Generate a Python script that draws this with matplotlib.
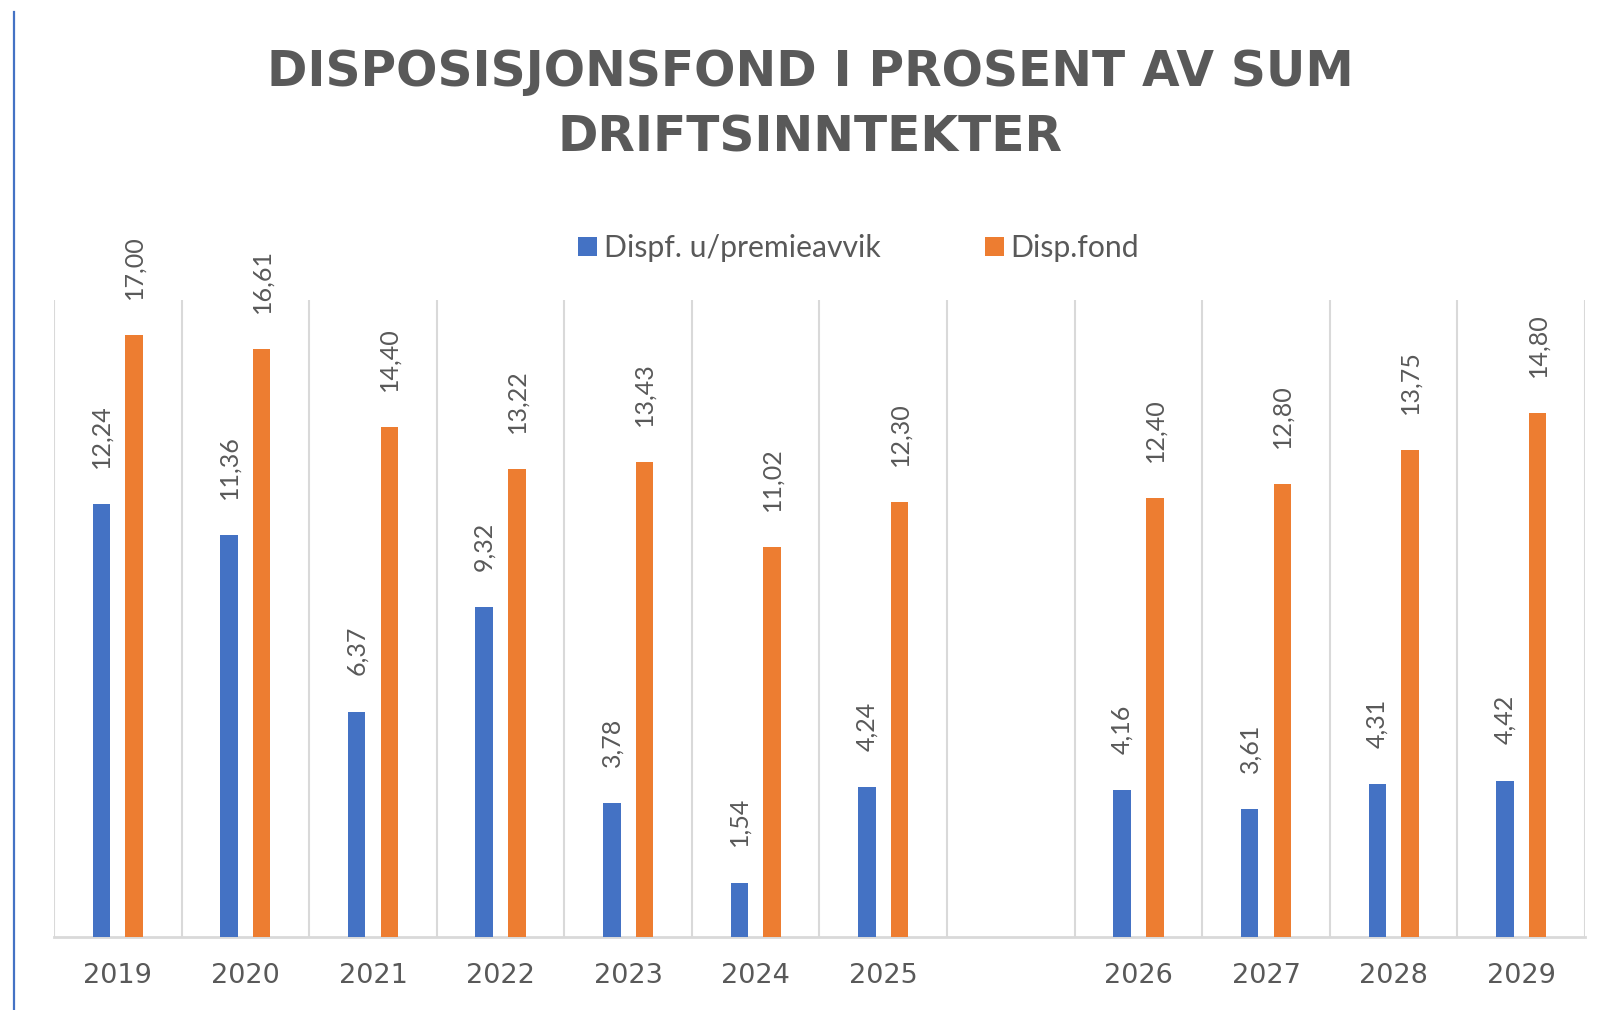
import matplotlib
matplotlib.use('Agg')
import matplotlib.pyplot as plt
import numpy as np
from matplotlib.lines import Line2D

# ---- data ----
categories = ['2019', '2020', '2021', '2022', '2023', '2024', '2025', '',
              '2026', '2027', '2028', '2029']
dispf_u_premieavvik = [12.24, 11.36, 6.37, 9.32, 3.78, 1.54, 4.24, np.nan,
                       4.16, 3.61, 4.31, 4.42]
disp_fond = [17.00, 16.61, 14.40, 13.22, 13.43, 11.02, 12.30, np.nan,
             12.40, 12.80, 13.75, 14.80]
series_names = ['Dispf. u/premieavvik', 'Disp.fond']
title = 'DISPOSISJONSFOND I PROSENT AV SUM\nDRIFTSINNTEKTER'

BLUE = '#4472C4'
ORANGE = '#ED7D31'
GRID = '#D9D9D9'
TXT = '#595959'

W, H = 1606, 1010
fig = plt.figure(figsize=(W / 100, H / 100), dpi=100)
fig.patch.set_facecolor('white')


def fx(px):
    return px / W


def fy(py):
    return 1 - py / H


ax = fig.add_axes([fx(54), fy(937), fx(1585) - fx(54), fy(300) - fy(937)])
ax.set_axisbelow(True)

x = np.arange(len(categories))
bw = 0.137
off = 0.128
v1 = np.array(dispf_u_premieavvik, dtype=float)
v2 = np.array(disp_fond, dtype=float)
m = ~np.isnan(v1)
b1 = ax.bar(x[m] - off, v1[m], bw, color=BLUE, label=series_names[0], zorder=3)
b2 = ax.bar(x[m] + off, v2[m], bw, color=ORANGE, label=series_names[1], zorder=3)

ax.set_xlim(-0.5, len(categories) - 0.5)
ax.set_ylim(0, 18)
for s in ['top', 'left', 'right']:
    ax.spines[s].set_visible(False)
ax.spines['bottom'].set_color(GRID)
ax.spines['bottom'].set_linewidth(2)
ax.set_yticks([])
ax.set_xticks(x, categories)
ax.tick_params(axis='x', which='major', length=0, pad=18.5, labelsize=19.5,
               labelcolor=TXT)
ax.set_xticks(np.arange(-0.5, len(categories), 1), minor=True)
ax.tick_params(axis='x', which='minor', length=0)
ax.grid(which='minor', axis='x', color=GRID, lw=1.5, zorder=0)
ax.grid(which='major', visible=False)

for xs, vals in ((x[m] - off, v1[m]), (x[m] + off, v2[m])):
    for xi, v in zip(xs, vals):
        ax.annotate(f'{v:.2f}'.replace('.', ','), (xi, v), xytext=(0, 26),
                    textcoords='offset points', rotation=90, ha='center',
                    va='bottom', fontsize=18, color=TXT, family='Lato')

# title: va='baseline' aligns the last line's baseline
fig.text(fx(810), fy(152), title, ha='center', va='baseline',
         multialignment='center', fontsize=35, fontweight='bold',
         color=TXT, linespacing=1.48, family='DejaVu Sans')

leg = fig.legend(handles=[b1, b2], labels=series_names, loc='center',
                 bbox_to_anchor=(fx(858.5), fy(248)), ncol=2, frameon=False,
                 prop={'family': 'Lato', 'size': 21.7}, labelcolor=TXT,
                 handlelength=0.63, handleheight=0.63, handletextpad=0.23,
                 columnspacing=3.45, borderpad=0, borderaxespad=0)

fig.add_artist(Line2D([fx(13.5), fx(13.5)], [fy(12), 0],
                      transform=fig.transFigure, color=BLUE, lw=1.6))

fig.savefig('out.png', dpi=100)
